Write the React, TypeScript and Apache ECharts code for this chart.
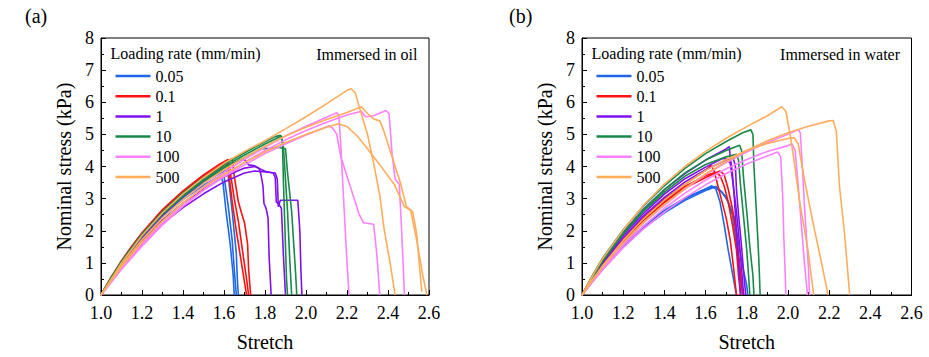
import React, { useEffect, useRef } from "react";
import * as echarts from "echarts";

// ---------- categories / styles ----------
const RATES = ["0.05", "0.1", "1", "10", "100", "500"];
const COLORS = ["#1f66e8", "#ff1010", "#8010f0", "#178a48", "#ff80ff", "#ffad5c"];
const X_TICKS = [1.0, 1.2, 1.4, 1.6, 1.8, 2.0, 2.2, 2.4, 2.6];
const Y_TICKS = [0, 1, 2, 3, 4, 5, 6, 7, 8];

// ---------- (a) Immersed in oil : [stretch, nominal stress kPa] ----------
const oil005 = [
  [[1,0],[1.05,0.5],[1.1,0.98],[1.2,1.82],[1.3,2.52],[1.4,3.08],[1.5,3.55],[1.59,3.92],[1.6,3.7],[1.62,2.8],[1.64,1.7],[1.65,0.8],[1.66,0]],
  [[1,0],[1.05,0.48],[1.1,0.95],[1.2,1.78],[1.3,2.47],[1.4,3.03],[1.5,3.5],[1.61,3.9],[1.62,3.75],[1.64,2.6],[1.66,1.3],[1.665,0.5],[1.67,0]],
  [[1,0],[1.05,0.47],[1.1,0.93],[1.2,1.74],[1.3,2.42],[1.4,2.97],[1.5,3.42],[1.585,3.72],[1.595,3.5],[1.61,2.6],[1.63,1.6],[1.645,0.6],[1.65,0]],
];
const oil01 = [
  [[1,0],[1.05,0.56],[1.1,1.07],[1.15,1.52],[1.2,1.94],[1.3,2.66],[1.4,3.24],[1.5,3.74],[1.58,4.08],[1.62,4.22],[1.63,3.85],[1.65,3.0],[1.67,2.3],[1.69,1.4],[1.71,0.5],[1.72,0]],
  [[1,0],[1.05,0.54],[1.1,1.04],[1.2,1.9],[1.3,2.62],[1.4,3.2],[1.5,3.7],[1.6,4.1],[1.64,4.25],[1.65,3.7],[1.67,2.9],[1.69,2.45],[1.7,2.25],[1.715,1.6],[1.72,0.8],[1.73,0]],
  [[1,0],[1.05,0.52],[1.1,1.0],[1.2,1.85],[1.3,2.56],[1.4,3.14],[1.5,3.64],[1.6,4.05],[1.615,4.12],[1.625,3.7],[1.64,2.9],[1.66,2.0],[1.68,1.2],[1.7,0.4],[1.71,0]],
];
const oil1 = [
  [[1,0],[1.05,0.42],[1.1,0.85],[1.2,1.6],[1.3,2.22],[1.4,2.72],[1.5,3.15],[1.6,3.52],[1.7,3.8],[1.75,3.86],[1.8,3.83],[1.85,3.8],[1.86,3.6],[1.865,2.75],[1.875,2.95],[1.96,2.95],[1.97,2.0],[1.975,0.8],[1.98,0]],
  [[1,0],[1.05,0.5],[1.1,0.97],[1.2,1.8],[1.3,2.5],[1.4,3.06],[1.5,3.55],[1.6,3.95],[1.68,4.2],[1.7,4.22],[1.72,4.05],[1.75,4.02],[1.77,3.95],[1.78,3.75],[1.79,3.4],[1.795,2.85],[1.805,2.7],[1.815,2.4],[1.82,1.2],[1.83,0]],
  [[1,0],[1.05,0.45],[1.1,0.9],[1.2,1.68],[1.3,2.33],[1.4,2.86],[1.5,3.3],[1.6,3.68],[1.7,3.95],[1.75,4.0],[1.8,3.85],[1.84,3.8],[1.85,3.65],[1.855,2.9],[1.87,2.8],[1.88,2.7],[1.89,1.2],[1.9,0]],
];
const oil10 = [
  [[1,0],[1.05,0.55],[1.1,1.05],[1.2,1.9],[1.3,2.6],[1.4,3.18],[1.5,3.66],[1.6,4.07],[1.7,4.43],[1.8,4.77],[1.85,4.93],[1.875,4.97],[1.885,4.8],[1.89,3.5],[1.9,1.5],[1.905,0.5],[1.91,0]],
  [[1,0],[1.05,0.53],[1.1,1.02],[1.2,1.86],[1.3,2.55],[1.4,3.12],[1.5,3.6],[1.6,4.0],[1.7,4.36],[1.8,4.7],[1.88,4.95],[1.89,4.6],[1.9,3.6],[1.91,2.6],[1.92,1.2],[1.93,0]],
  [[1,0],[1.05,0.52],[1.1,1.0],[1.2,1.83],[1.3,2.52],[1.4,3.08],[1.5,3.55],[1.6,3.95],[1.7,4.28],[1.78,4.55],[1.82,4.57],[1.86,4.6],[1.9,4.55],[1.91,3.8],[1.93,2.6],[1.94,1.6],[1.95,0.6],[1.955,0]],
];
const oil100 = [
  [[1,0],[1.05,0.42],[1.1,0.85],[1.2,1.6],[1.3,2.28],[1.4,2.86],[1.5,3.37],[1.6,3.82],[1.7,4.22],[1.8,4.6],[1.9,4.95],[2.0,5.25],[2.1,5.53],[2.15,5.67],[2.16,5.6],[2.17,4.6],[2.18,3.4],[2.19,2.2],[2.2,1.0],[2.21,0]],
  [[1,0],[1.05,0.4],[1.1,0.8],[1.2,1.52],[1.3,2.18],[1.4,2.76],[1.5,3.27],[1.6,3.72],[1.7,4.13],[1.8,4.5],[1.9,4.83],[2.0,5.12],[2.1,5.38],[2.2,5.6],[2.27,5.72],[2.29,5.55],[2.33,5.58],[2.39,5.74],[2.405,5.65],[2.42,4.4],[2.435,3.6],[2.455,3.45],[2.465,2.2],[2.475,0.8],[2.48,0]],
  [[1,0],[1.05,0.41],[1.1,0.83],[1.2,1.56],[1.3,2.22],[1.4,2.78],[1.5,3.26],[1.6,3.68],[1.7,4.05],[1.8,4.4],[1.9,4.7],[2.0,4.98],[2.08,5.18],[2.11,5.26],[2.13,5.2],[2.15,5.0],[2.17,4.3],[2.2,3.7],[2.23,3.1],[2.26,2.5],[2.28,2.25],[2.33,2.2],[2.345,1.3],[2.36,0]],
];
const oil500 = [
  [[1,0],[1.05,0.5],[1.1,1.0],[1.2,1.85],[1.3,2.56],[1.4,3.15],[1.5,3.65],[1.6,4.1],[1.7,4.47],[1.8,4.8],[1.9,5.17],[2.0,5.55],[2.1,5.95],[2.2,6.37],[2.22,6.42],[2.24,6.3],[2.26,5.85],[2.3,5.0],[2.33,4.1],[2.36,3.1],[2.38,2.1],[2.41,1.0],[2.435,0]],
  [[1,0],[1.05,0.46],[1.1,0.93],[1.2,1.72],[1.3,2.4],[1.4,2.97],[1.5,3.47],[1.6,3.9],[1.7,4.28],[1.8,4.63],[1.9,4.95],[2.0,5.22],[2.1,5.46],[2.2,5.68],[2.27,5.86],[2.3,5.65],[2.33,5.48],[2.36,5.42],[2.38,5.1],[2.41,4.5],[2.46,3.5],[2.49,2.75],[2.51,2.65],[2.54,1.7],[2.57,0.6],[2.59,0]],
  [[1,0],[1.05,0.44],[1.1,0.88],[1.2,1.64],[1.3,2.3],[1.4,2.86],[1.5,3.35],[1.6,3.76],[1.7,4.12],[1.8,4.45],[1.9,4.75],[2.0,5.0],[2.1,5.22],[2.16,5.33],[2.2,5.24],[2.25,4.95],[2.3,4.55],[2.36,4.05],[2.43,3.45],[2.48,2.75],[2.52,2.6],[2.54,1.9],[2.555,0.8],[2.565,0.1]],
];

// ---------- (b) Immersed in water ----------
const water005 = [
  [[1,0],[1.05,0.42],[1.1,0.82],[1.2,1.52],[1.3,2.12],[1.4,2.6],[1.5,3.0],[1.6,3.3],[1.63,3.4],[1.65,3.3],[1.67,2.9],[1.69,2.2],[1.71,1.4],[1.73,0.7],[1.75,0]],
  [[1,0],[1.05,0.43],[1.1,0.84],[1.2,1.55],[1.3,2.15],[1.4,2.63],[1.5,3.02],[1.6,3.3],[1.65,3.38],[1.68,3.2],[1.71,2.9],[1.74,2.4],[1.76,1.6],[1.78,0.9],[1.8,0.3],[1.805,0]],
  [[1,0],[1.05,0.41],[1.1,0.8],[1.2,1.5],[1.3,2.08],[1.4,2.56],[1.5,2.95],[1.6,3.25],[1.64,3.35],[1.67,3.25],[1.7,3.05],[1.73,2.5],[1.75,1.6],[1.77,0.6],[1.78,0]],
];
const water01 = [
  [[1,0],[1.05,0.48],[1.1,0.94],[1.2,1.74],[1.3,2.42],[1.4,2.98],[1.5,3.45],[1.6,3.88],[1.625,4.03],[1.64,3.9],[1.66,3.4],[1.68,2.9],[1.7,2.4],[1.72,1.7],[1.735,0.9],[1.75,0]],
  [[1,0],[1.05,0.47],[1.1,0.92],[1.2,1.7],[1.3,2.37],[1.4,2.92],[1.5,3.38],[1.6,3.72],[1.65,3.82],[1.67,3.72],[1.69,3.4],[1.71,2.9],[1.73,2.2],[1.75,1.4],[1.76,0.6],[1.77,0]],
  [[1,0],[1.05,0.46],[1.1,0.9],[1.2,1.67],[1.3,2.33],[1.4,2.88],[1.5,3.33],[1.6,3.66],[1.67,3.86],[1.69,3.75],[1.71,3.3],[1.73,2.7],[1.75,1.9],[1.765,1.0],[1.775,0.3],[1.78,0]],
];
const water1 = [
  [[1,0],[1.05,0.56],[1.1,1.08],[1.2,1.95],[1.3,2.68],[1.4,3.28],[1.5,3.78],[1.6,4.2],[1.7,4.55],[1.715,4.62],[1.72,4.3],[1.73,3.8],[1.74,3.0],[1.75,2.0],[1.76,1.0],[1.77,0]],
  [[1,0],[1.05,0.53],[1.1,1.02],[1.2,1.85],[1.3,2.55],[1.4,3.14],[1.5,3.62],[1.6,3.98],[1.68,4.24],[1.7,4.25],[1.72,4.1],[1.735,3.4],[1.75,2.6],[1.765,1.6],[1.775,0.8],[1.785,0]],
  [[1,0],[1.05,0.5],[1.1,0.98],[1.2,1.78],[1.3,2.47],[1.4,3.04],[1.5,3.52],[1.6,3.9],[1.7,4.2],[1.735,4.25],[1.745,4.0],[1.75,3.3],[1.76,2.5],[1.775,1.5],[1.785,0.7],[1.795,0]],
];
const water10 = [
  [[1,0],[1.05,0.6],[1.1,1.15],[1.2,2.03],[1.3,2.78],[1.4,3.4],[1.5,3.94],[1.6,4.4],[1.7,4.78],[1.78,5.05],[1.82,5.14],[1.83,5.0],[1.835,4.0],[1.845,2.8],[1.855,1.6],[1.86,0.9],[1.865,0]],
  [[1,0],[1.05,0.56],[1.1,1.08],[1.2,1.94],[1.3,2.67],[1.4,3.28],[1.5,3.8],[1.6,4.2],[1.7,4.5],[1.765,4.66],[1.775,4.5],[1.785,3.6],[1.8,2.6],[1.815,1.5],[1.83,0.6],[1.835,0]],
  [[1,0],[1.05,0.55],[1.1,1.05],[1.2,1.9],[1.3,2.62],[1.4,3.2],[1.5,3.7],[1.6,4.06],[1.7,4.3],[1.75,4.38],[1.76,4.2],[1.77,3.4],[1.785,2.4],[1.8,1.4],[1.81,0.5],[1.815,0]],
];
const water100 = [
  [[1,0],[1.05,0.44],[1.1,0.86],[1.2,1.6],[1.3,2.25],[1.4,2.8],[1.5,3.3],[1.6,3.75],[1.7,4.12],[1.8,4.45],[1.9,4.75],[2.0,5.0],[2.05,5.15],[2.06,5.05],[2.07,4.0],[2.08,2.8],[2.09,1.8],[2.1,0.8],[2.105,0]],
  [[1,0],[1.05,0.42],[1.1,0.82],[1.2,1.54],[1.3,2.15],[1.4,2.7],[1.5,3.17],[1.6,3.58],[1.7,3.93],[1.8,4.22],[1.9,4.47],[2.0,4.65],[2.02,4.7],[2.035,4.5],[2.05,3.4],[2.065,2.2],[2.08,1.0],[2.095,0]],
  [[1,0],[1.05,0.4],[1.1,0.78],[1.2,1.47],[1.3,2.07],[1.4,2.58],[1.5,3.03],[1.6,3.43],[1.7,3.78],[1.8,4.08],[1.9,4.33],[1.95,4.45],[1.965,4.3],[1.975,3.0],[1.98,1.8],[1.987,0.6],[1.99,0]],
];
const water500 = [
  [[1,0],[1.05,0.58],[1.1,1.13],[1.2,2.02],[1.3,2.8],[1.4,3.45],[1.5,4.0],[1.6,4.47],[1.7,4.88],[1.8,5.24],[1.9,5.58],[1.97,5.86],[1.99,5.72],[2.005,5.2],[2.025,4.4],[2.057,2.9],[2.098,1.37],[2.125,0]],
  [[1,0],[1.05,0.45],[1.1,0.87],[1.2,1.62],[1.3,2.27],[1.4,2.82],[1.5,3.32],[1.6,3.77],[1.7,4.15],[1.8,4.5],[1.9,4.8],[2.0,5.05],[2.1,5.25],[2.2,5.42],[2.22,5.43],[2.235,5.1],[2.25,3.4],[2.275,1.9],[2.3,0]],
  [[1,0],[1.05,0.47],[1.1,0.91],[1.2,1.7],[1.3,2.38],[1.4,2.95],[1.5,3.45],[1.6,3.88],[1.7,4.22],[1.8,4.5],[1.9,4.72],[2.0,4.87],[2.03,4.9],[2.05,4.7],[2.08,3.6],[2.12,2.3],[2.16,1.1],[2.195,0]],
];

const PANELS = [
  { label: "(a)", note: "Immersed in oil", groups: [oil005, oil01, oil1, oil10, oil100, oil500] },
  { label: "(b)", note: "Immersed in water", groups: [water005, water01, water1, water10, water100, water500] },
];

const FONT = "Liberation Serif";

const GRIDS = [
  { left: 101, top: 38, width: 328, height: 264 },
  { left: 582, top: 38, width: 329.5, height: 264 },
];

function buildOption() {
  const series: any[] = [];
  PANELS.forEach((p, pi) => {
    p.groups.forEach((curves, ri) => {
      curves.forEach((curve) => {
        series.push({
          type: "line",
          name: RATES[ri],
          xAxisIndex: pi,
          yAxisIndex: pi,
          data: curve,
          showSymbol: false,
          symbol: "none",
          silent: true,
          clip: true,
          lineStyle: { width: 1.6, color: COLORS[ri] },
          itemStyle: { color: COLORS[ri] },
        });
      });
    });
  });

  const xAxis = GRIDS.map((_, i) => ({
    type: "value",
    gridIndex: i,
    min: X_TICKS[0],
    max: X_TICKS[X_TICKS.length - 1],
    interval: 0.2,
    name: "Stretch",
    nameLocation: "middle",
    nameGap: 37,
    nameTextStyle: { fontFamily: FONT, fontSize: 20, color: "#000" },
    axisLine: { show: true, onZero: false, lineStyle: { color: "#000", width: 1 } },
    axisTick: { show: true, inside: true, length: 5, lineStyle: { color: "#000" } },
    minorTick: { show: true, splitNumber: 2, length: 3, lineStyle: { color: "#000" } },
    splitLine: { show: false },
    axisLabel: {
      fontFamily: FONT,
      fontSize: 18,
      color: "#000",
      margin: 9,
      formatter: (v: number) => v.toFixed(1),
    },
  }));
  const yAxis = GRIDS.map((_, i) => ({
    type: "value",
    gridIndex: i,
    min: Y_TICKS[0],
    max: Y_TICKS[Y_TICKS.length - 1],
    interval: 1,
    name: "Nominal stress (kPa)",
    nameLocation: "middle",
    nameGap: 27,
    nameTextStyle: { fontFamily: FONT, fontSize: 20, color: "#000" },
    axisLine: { show: true, onZero: false, lineStyle: { color: "#000", width: 1 } },
    axisTick: { show: true, inside: true, length: 5, lineStyle: { color: "#000" } },
    minorTick: { show: true, splitNumber: 2, length: 3, lineStyle: { color: "#000" } },
    splitLine: { show: false },
    axisLabel: { fontFamily: FONT, fontSize: 18, color: "#000", margin: 7 },
  }));

  const legend = GRIDS.map((g) => ({
    data: RATES,
    orient: "vertical",
    left: g.left + 9.5,
    top: 63,
    icon: "rect",
    itemWidth: 35,
    itemHeight: 2.5,
    itemGap: 4.2,
    selectedMode: false,
    textStyle: { fontFamily: FONT, fontSize: 16, color: "#000", lineHeight: 16 },
  }));

  const graphic: any[] = [];
  PANELS.forEach((p, i) => {
    const g = GRIDS[i];
    graphic.push({
      type: "text",
      left: i === 0 ? 25 : 509,
      top: 6,
      style: { text: p.label, fontFamily: FONT, fontSize: 20, fill: "#000" },
    });
    graphic.push({
      type: "text",
      left: g.left + 9.5,
      top: 45,
      style: { text: "Loading rate (mm/min)", fontFamily: FONT, fontSize: 16, fill: "#000" },
    });
    graphic.push({
      type: "text",
      right: 929 - (g.left + g.width - 11.5),
      top: 46,
      style: { text: p.note, fontFamily: FONT, fontSize: 16, fill: "#000" },
    });
  });

  return {
    animation: false,
    backgroundColor: "#fff",
    textStyle: { fontFamily: FONT },
    grid: GRIDS.map((g) => ({
      ...g,
      show: true,
      borderColor: "#000",
      borderWidth: 1,
      backgroundColor: "transparent",
      containLabel: false,
    })),
    xAxis,
    yAxis,
    legend,
    graphic,
    series,
  };
}

export default function App() {
  const ref = useRef<HTMLDivElement>(null);
  useEffect(() => {
    if (!ref.current) return;
    const chart = echarts.init(ref.current, undefined, { renderer: "svg" });
    chart.setOption(buildOption() as any);
    return () => chart.dispose();
  }, []);
  return (
    <div
      ref={ref}
      style={{ position: "absolute", left: 0, top: 0, width: 929, height: 357, background: "#fff" }}
    />
  );
}
